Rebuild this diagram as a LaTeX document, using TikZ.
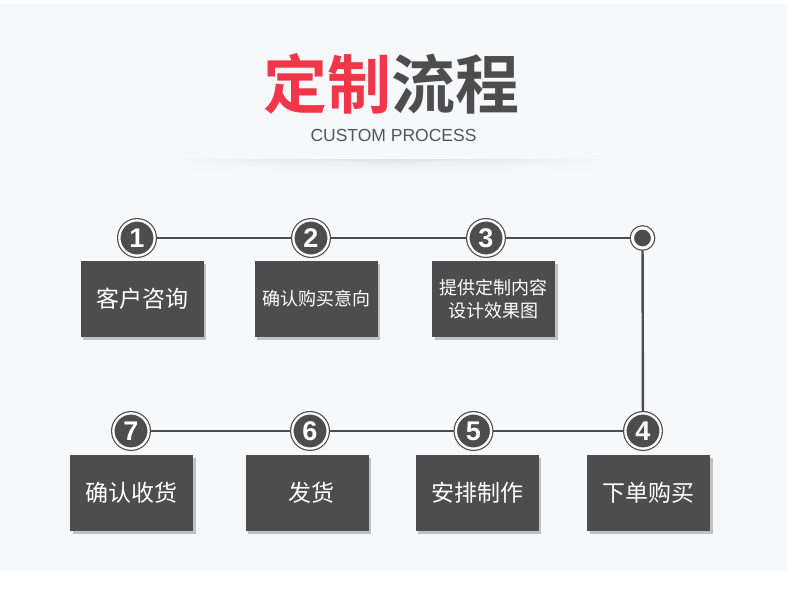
\documentclass[tikz,border=0pt]{standalone}
\usepackage{fontspec}
\setmainfont{Liberation Sans}
\newfontfamily\cjk{Noto Sans CJK SC}
\newfontfamily\cjkbold{Noto Sans CJK SC Bold}
\usetikzlibrary{shadows}
\definecolor{bgc}{HTML}{F7F8FA}
\definecolor{dk}{HTML}{4D4D4D}
\definecolor{titred}{HTML}{F2364A}
\definecolor{subg}{HTML}{555555}
\begin{document}
\begin{tikzpicture}[x=1pt,y=-1pt,
  numcirc/.style={circle,inner sep=0pt,minimum size=35.3pt,fill=dk,draw=dk,
    double=white,double distance=2.3pt,line width=1.2pt,outer sep=2.3pt,
    text=white,font=\bfseries\fontsize{27}{27}\selectfont},
  dotcirc/.style={circle,inner sep=0pt,minimum size=20.1pt,fill=dk,draw=dk,
    double=white,double distance=3.1pt,line width=1.2pt,outer sep=2.7pt},
  stepbox/.style={rectangle,fill=dk,minimum width=123pt,minimum height=76pt,
    inner sep=0pt,text=white,align=center,
    drop shadow={shadow xshift=2.5pt,shadow yshift=-3pt,fill=black,opacity=0.22}},
  big/.style={font=\cjk\fontsize{23}{23}\selectfont},
  small/.style={font=\cjk\fontsize{18}{23.5}\selectfont},
  conn/.style={draw=dk,line width=2.4pt}]
\useasboundingbox (0,0) rectangle (790,594);
\fill[white] (0,0) rectangle (790,594);
\fill[bgc] (0,4) rectangle (787,570.5);
% header shadow
\foreach \i in {0,...,15}{
  \pgfmathsetmacro{\v}{9*(1-\i/16)*(1-\i/16)}
  \shade[left color=bgc,right color=bgc,middle color=black!\v!bgc]
    (150,159+\i) rectangle (632,160.2+\i);
}
% title
\node[font=\cjkbold\fontsize{64}{64}\selectfont,inner sep=0pt] (title) at (391,84)
  {\textcolor{titred}{定制}\textcolor{dk}{流程}};
\node[font=\fontsize{17.5}{17.5}\selectfont,text=subg,inner sep=0pt] (sub) at (393.5,135)
  {CUSTOM PROCESS};
% circles
\node[numcirc] (c1) at (137,238) {1};
\node[numcirc] (c2) at (311,238) {2};
\node[numcirc] (c3) at (486,238) {3};
\node[dotcirc] (cd) at (642.5,238) {};
\node[numcirc] (c4) at (643,431) {4};
\node[numcirc] (c5) at (473.5,431) {5};
\node[numcirc] (c6) at (310,431) {6};
\node[numcirc] (c7) at (131,431) {7};
% connectors
\draw[conn] (c1) -- (c2);
\draw[conn] (c2) -- (c3);
\draw[conn] (c3) -- (cd);
\draw[conn] (cd) -- (c4);
\draw[conn] (c4) -- (c5);
\draw[conn] (c5) -- (c6);
\draw[conn] (c6) -- (c7);
% boxes
\node[stepbox,big] (b1) at (142,299) {客户咨询};
\node[stepbox,small] (b2) at (316,299) {确认购买意向};
\node[stepbox,small] (b3) at (493.5,299) {提供定制内容\\设计效果图};
\node[stepbox,big] (b4) at (648.5,493) {下单购买};
\node[stepbox,big] (b5) at (477.3,493) {安排制作};
\node[stepbox,big] (b6) at (307.3,493) {\hspace*{8pt}发货};
\node[stepbox,big] (b7) at (131.5,493) {确认收货};
\end{tikzpicture}
\end{document}
